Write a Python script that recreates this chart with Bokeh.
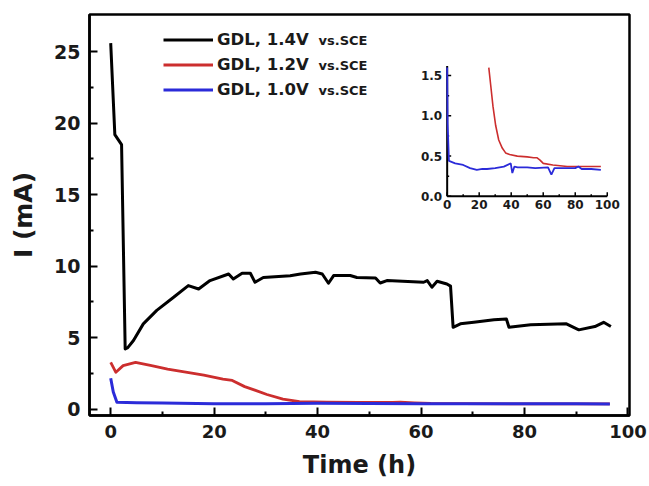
import math
from bokeh.plotting import figure
from bokeh.models import Range1d, FixedTicker, Legend, LegendItem, Label
from bokeh.core.properties import value
from bokeh.embed import file_html
from bokeh.resources import INLINE

# ---------------- data (main panel) ----------------
t_14 = [0, 0.8, 2.1, 2.8, 3.3, 4.4, 6.3, 8.9, 12.1, 15.0, 17.0, 19.2, 22.8, 23.7, 25.4, 27.0,
        27.9, 29.5, 34.7, 36.7, 39.6, 40.9, 42.1, 43.1, 46.3, 47.6, 51.2, 52.1, 53.4, 60.5,
        61.2, 62.1, 63.1, 65.0, 65.7, 66.2, 67.6, 70.2, 74.1, 76.5, 77.0, 81.2, 88.1, 90.5,
        93.6, 95.3, 96.7]
i_14 = [25.6, 19.2, 18.5, 4.2, 4.3, 4.8, 5.96, 6.9, 7.8, 8.64, 8.4, 8.99, 9.45, 9.1, 9.5, 9.5,
        8.87, 9.2, 9.33, 9.45, 9.57, 9.45, 8.8, 9.34, 9.34, 9.2, 9.17, 8.82, 8.99, 8.87,
        8.99, 8.52, 8.94, 8.75, 8.6, 5.72, 5.96, 6.07, 6.24, 6.3, 5.72, 5.89, 5.96, 5.54,
        5.77, 6.07, 5.77]

t_12 = [0, 1.0, 2.4, 4.8, 7.9, 11.0, 14.8, 18.0, 21.7, 23.5, 25.9, 28.0, 30.2, 33.3, 36.5,
        41.8, 48.0, 54.5, 56.0, 58.7, 61.9, 68.0, 77.8, 85.0, 96.5]
i_12 = [3.27, 2.57, 3.04, 3.27, 3.04, 2.8, 2.57, 2.38, 2.1, 2.0, 1.57, 1.31, 1.02, 0.69, 0.52,
        0.48, 0.47, 0.475, 0.48, 0.44, 0.39, 0.38, 0.36, 0.36, 0.36]

t_10 = [0, 0.5, 1.2, 5, 10, 20, 30, 40, 50, 60, 70, 80, 90, 96.5]
i_10 = [2.15, 1.2, 0.48, 0.44, 0.42, 0.38, 0.38, 0.4, 0.39, 0.38, 0.37, 0.37, 0.37, 0.36]

# ---------------- data (inset) ----------------
ti_12 = [26.0, 27.2, 28.6, 30.3, 32.2, 34.4, 36.5, 39.0, 43.8, 50.0, 54.0, 56.0, 58.0, 60.0,
         66.0, 75.0, 85.0, 96.0]
ii_12 = [1.6, 1.38, 1.12, 0.88, 0.7, 0.6, 0.54, 0.52, 0.50, 0.49, 0.48, 0.48, 0.45, 0.41,
         0.39, 0.37, 0.37, 0.37]

ti_10 = [0, 0.3, 1.1, 5, 10, 14.3, 18.5, 22, 24.9, 30, 35.4, 39.7, 40.7, 42, 44, 50, 55, 63,
         65.1, 67, 75, 80, 82, 84, 90, 96]
ii_10 = [1.6, 0.9, 0.44, 0.41, 0.39, 0.35, 0.33, 0.34, 0.34, 0.35, 0.37, 0.41, 0.29, 0.37,
         0.36, 0.36, 0.35, 0.36, 0.27, 0.35, 0.35, 0.35, 0.37, 0.34, 0.34, 0.33]

# ---------------- ticks / labels ----------------
x_major = [0, 20, 40, 60, 80, 100]
x_minor = [10, 30, 50, 70, 90]
y_major = [0, 5, 10, 15, 20, 25]
y_minor = [2.5, 7.5, 12.5, 17.5, 22.5]

inset_x_lim = [0, 100]
inset_y_lim = [0, 1.62]
inset_x_ticks = [0, 20, 40, 60, 80, 100]
inset_x_labels = ["0", "20", "40", "60", "80", "100"]
inset_x_minor = [10, 30, 50, 70, 90]
inset_y_ticks = [0.0, 0.5, 1.0, 1.5]
inset_y_labels = ["0.0", "0.5", "1.0", "1.5"]
inset_y_minor = [0.25, 0.75, 1.25]

legend_labels = ["GDL, 1.4V", "GDL, 1.2V", "GDL, 1.0V"]
legend_suffix = "vs.SCE"

colors = ["#000000", "#cc2e2e", "#2b2bd9"]
FONT = "DejaVu Sans"

# ---------------- main figure ----------------
p = figure(width=647, height=484,
           x_range=Range1d(-4.1, 100.3), y_range=Range1d(-0.45, 27.6),
           output_backend="svg", toolbar_location=None,
           min_border_left=89, min_border_right=18, min_border_top=14, min_border_bottom=69)
p.background_fill_color = "white"
p.border_fill_color = "white"
p.xgrid.visible = False
p.ygrid.visible = False
p.outline_line_color = "black"
p.outline_line_width = 2.5
p.outline_line_alpha = 1.0

for ax in (p.xaxis[0], p.yaxis[0]):
    ax.axis_line_width = 2.5
    ax.axis_line_color = "black"
    ax.major_tick_in = 8
    ax.major_tick_out = 0
    ax.minor_tick_in = 4
    ax.minor_tick_out = 0
    ax.major_tick_line_width = 2
    ax.minor_tick_line_width = 2
    ax.major_label_text_font = FONT
    ax.major_label_text_font_style = "bold"
    ax.major_label_text_color = "#1a1a1a"
    ax.axis_label_text_font = FONT
    ax.axis_label_text_font_style = "bold"
    ax.axis_label_text_color = "#1a1a1a"
    ax.major_label_standoff = 9

p.xaxis.ticker = FixedTicker(ticks=x_major, minor_ticks=x_minor)
p.yaxis.ticker = FixedTicker(ticks=y_major, minor_ticks=y_minor)
p.xaxis.major_label_text_font_size = "18px"
p.yaxis.major_label_text_font_size = "19px"
p.xaxis.axis_label = "Time (h)"
p.yaxis.axis_label = "I (mA)"
p.xaxis.axis_label_text_font_size = "24px"
p.yaxis.axis_label_text_font_size = "25px"
p.xaxis.axis_label_standoff = 10
p.yaxis.axis_label_standoff = 13

r14 = p.line(t_14, i_14, line_color=colors[0], line_width=3, line_join="round")
r12 = p.line(t_12, i_12, line_color=colors[1], line_width=2.8, line_join="round")
r10 = p.line(t_10, i_10, line_color=colors[2], line_width=3, line_join="round")

legend = Legend(items=[LegendItem(label=legend_labels[0], renderers=[r14]),
                       LegendItem(label=legend_labels[1], renderers=[r12]),
                       LegendItem(label=legend_labels[2], renderers=[r10])],
                location=(74, 315), orientation="vertical", padding=0, spacing=4,
                glyph_width=50, glyph_height=21, label_height=21, label_standoff=4,
                label_text_font=FONT, label_text_font_style="bold",
                label_text_font_size="16.5px", label_text_color="#1a1a1a",
                background_fill_alpha=0, border_line_alpha=0, margin=0)
p.add_layout(legend)

for k in range(3):
    p.add_layout(Label(x=229, y=375 - 25 * k, x_units="screen", y_units="screen",
                       text=legend_suffix, text_font=FONT, text_font_style="bold",
                       text_font_size="13px", text_color="#1a1a1a",
                       text_baseline="alphabetic", text_align="left"))

# ---------------- inset (sub-coordinates inside the main frame) ----------------
inset = p.subplot(x_source=Range1d(inset_x_lim[0], inset_x_lim[1]),
                  y_source=Range1d(inset_y_lim[0], inset_y_lim[1]),
                  x_target=Range1d(65.05, 96.0),
                  y_target=Range1d(14.88, 24.0))

inset.segment(x0=[inset_x_lim[0], inset_x_lim[0]], y0=[inset_y_lim[0], inset_y_lim[0]],
              x1=[inset_x_lim[1], inset_x_lim[0]], y1=[inset_y_lim[0], inset_y_lim[1]],
              line_color="black", line_width=2)
inset.ray(x=inset_x_ticks, y=[inset_y_lim[0]] * len(inset_x_ticks), length=4,
          length_units="screen", angle=math.pi / 2, line_color="black", line_width=1.5)
inset.ray(x=inset_x_minor, y=[inset_y_lim[0]] * len(inset_x_minor), length=2,
          length_units="screen", angle=math.pi / 2, line_color="black", line_width=1.5)
inset.ray(x=[inset_x_lim[0]] * len(inset_y_ticks), y=inset_y_ticks, length=4,
          length_units="screen", angle=0, line_color="black", line_width=1.5)
inset.ray(x=[inset_x_lim[0]] * len(inset_y_minor), y=inset_y_minor, length=2,
          length_units="screen", angle=0, line_color="black", line_width=1.5)
inset.text(x=inset_x_ticks, y=[inset_y_lim[0]] * len(inset_x_ticks), text=inset_x_labels,
           y_offset=4, text_align="center", text_baseline="top",
           text_font=value(FONT), text_font_style="bold", text_font_size="12px",
           text_color="#1a1a1a")
inset.text(x=[inset_x_lim[0]] * len(inset_y_ticks), y=inset_y_ticks, text=inset_y_labels,
           x_offset=-5, text_align="right", text_baseline="middle",
           text_font=value(FONT), text_font_style="bold", text_font_size="12px",
           text_color="#1a1a1a")

inset.line(ti_12, ii_12, line_color=colors[1], line_width=1.6)
inset.line(ti_10, ii_10, line_color=colors[2], line_width=1.8)

open("out.html", "w").write(file_html(p, INLINE))
